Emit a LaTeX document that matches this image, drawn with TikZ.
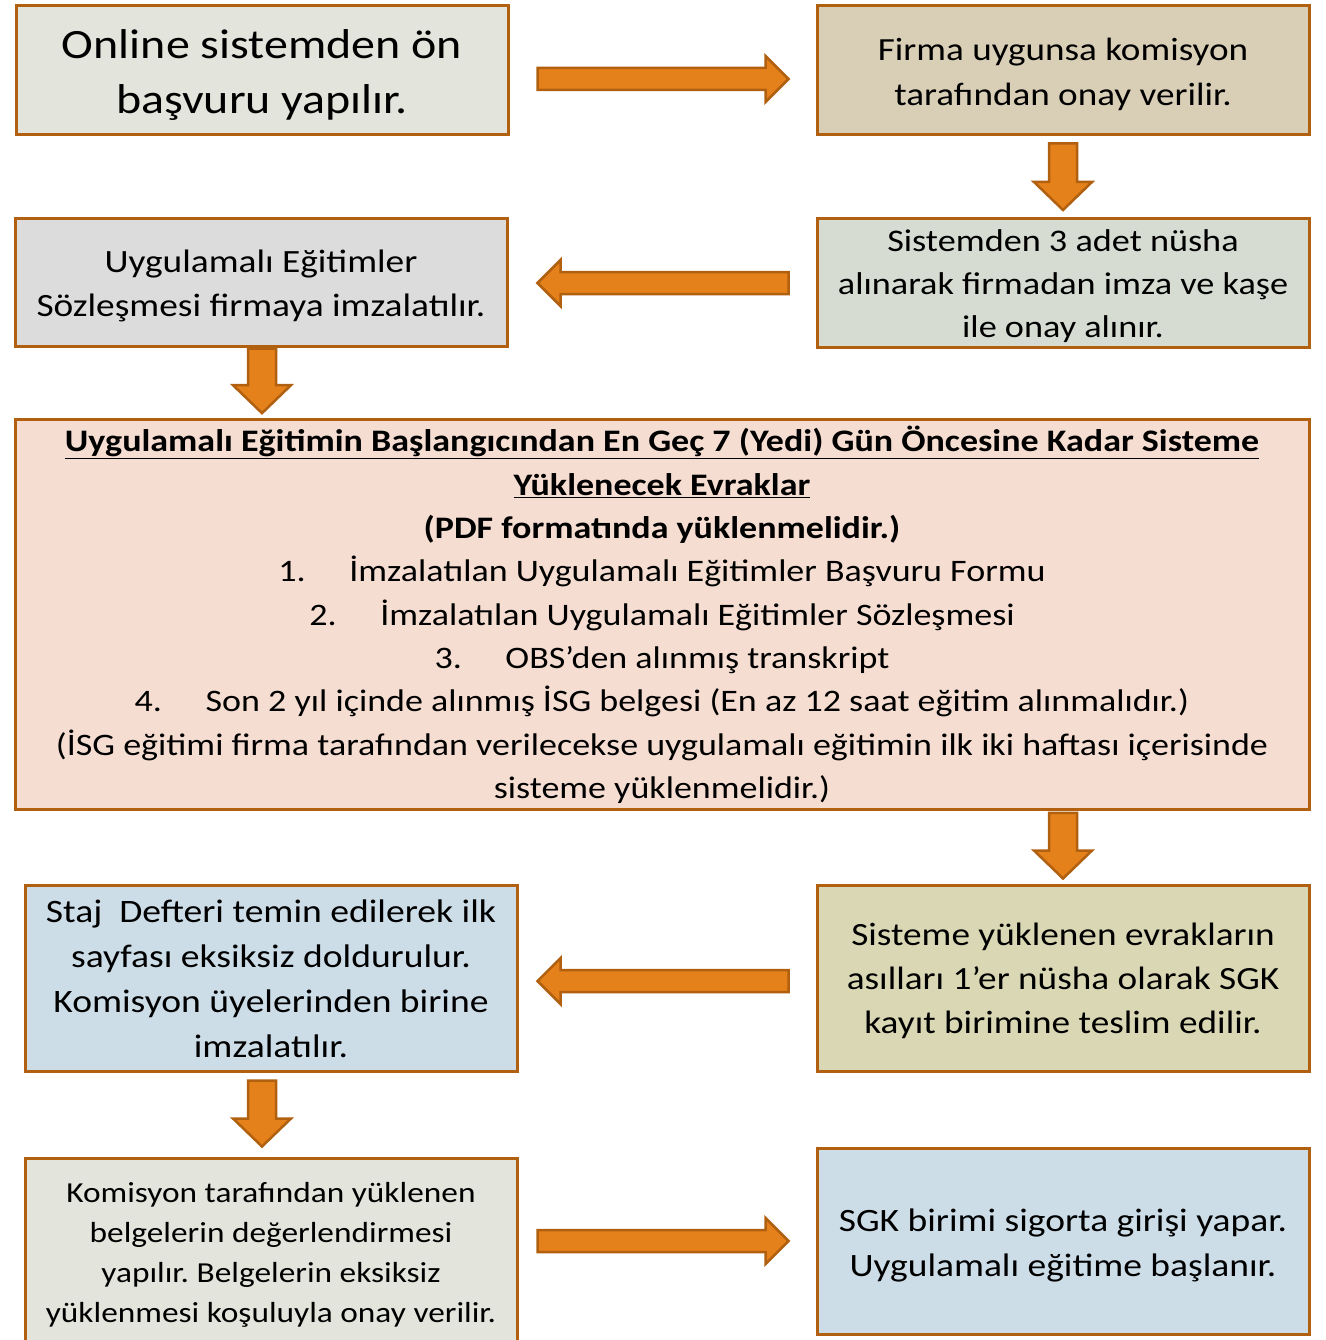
\documentclass[tikz,border=0pt]{standalone}
\usepackage{fontspec}
\setmainfont{Carlito}[FakeStretch=1.15]
\usetikzlibrary{calc}
\frenchspacing
\definecolor{bord}{HTML}{B0600F}
\definecolor{arrfill}{HTML}{E5811A}
\definecolor{cA}{HTML}{E3E5DC}
\definecolor{cB}{HTML}{D9CEB6}
\definecolor{cC}{HTML}{D6DCD2}
\definecolor{cD}{HTML}{DCDCDC}
\definecolor{cE}{HTML}{F5DDD1}
\definecolor{cF}{HTML}{DAD8B4}
\definecolor{cG}{HTML}{CCDDE8}
\tikzset{
  box/.style={draw=bord, line width=3pt, inner sep=0pt, text=black},
  blockarr/.style={draw=bord, fill=arrfill, line width=2.5pt, line join=miter},
}
% multi-line centred text, lowered by #1
\newcommand\ml[2][3pt]{\raisebox{-#1}[\height][\depth]{\begin{tabular}{@{}c@{}}#2\end{tabular}}}
\newcommand\blockarrow[5]{%
  \coordinate (bah) at ($(#2)!#5!(#1)$);
  \filldraw[blockarr] ($(#1)!#3!90:(#2)$) -- ($(bah)!#3!90:(#2)$) -- ($(bah)!#4!90:(#2)$) -- (#2)
    -- ($(bah)!#4!-90:(#2)$) -- ($(bah)!#3!-90:(#2)$) -- ($(#1)!#3!-90:(#2)$) -- cycle;}
\begin{document}
\begin{tikzpicture}[x=1pt,y=-1pt]
\clip (0,0) rectangle (1325,1340);
\fill[white] (0,0) rectangle (1325,1340);

\node[box, fill=cA, minimum width=492, minimum height=129, font=\fontsize{41.7}{55}\selectfont] (b1) at (262,70.5)
  {\ml[5pt]{Online sistemden ön\\başvuru yapılır.}};
\node[box, fill=cB, minimum width=492, minimum height=129, font=\fontsize{32.3}{45}\selectfont] (b2) at (1063,70.5)
  {\ml[4pt]{Firma uygunsa komisyon\\tarafından onay verilir.}};
\node[box, fill=cC, minimum width=492, minimum height=126, font=\fontsize{31.5}{43}\selectfont] (b3) at (1063,283)
  {\ml{Sistemden 3 adet nüsha\\alınarak firmadan imza ve kaşe\\ile onay alınır.}};
\node[box, fill=cD, minimum width=492, minimum height=127, font=\fontsize{32.5}{44}\selectfont] (b4) at (261,282.5)
  {\ml{Uygulamalı Eğitimler\\Sözleşmesi firmaya imzalatılır.}};
\node[box, fill=cE, minimum width=1294, minimum height=387, font=\fontsize{31.3}{43.3}\selectfont] (big) at (662,614.5)
  {\ml[2pt]{\textbf{\underline{Uygulamalı Eğitimin Başlangıcından En Geç 7 (Yedi) Gün Öncesine Kadar Sisteme}}\\
   \textbf{\underline{Yüklenecek Evraklar}}\\
   \textbf{(PDF formatında yüklenmelidir.)}\\
   \makebox[71pt][l]{1.}İmzalatılan Uygulamalı Eğitimler Başvuru Formu\\
   \makebox[71pt][l]{2.}İmzalatılan Uygulamalı Eğitimler Sözleşmesi\\
   \makebox[71pt][l]{3.}OBS’den alınmış transkript\\
   \makebox[71pt][l]{4.}Son 2 yıl içinde alınmış İSG belgesi (En az 12 saat eğitim alınmalıdır.)\\
   (İSG eğitimi firma tarafından verilecekse uygulamalı eğitimin ilk iki haftası içerisinde\\
   sisteme yüklenmelidir.)}};
\node[box, fill=cF, minimum width=492, minimum height=186, font=\fontsize{32.4}{44}\selectfont] (b6) at (1063,978)
  {\ml{Sisteme yüklenen evrakların\\asılları 1’er nüsha olarak SGK\\kayıt birimine teslim edilir.}};
\node[box, fill=cG, minimum width=492, minimum height=186, font=\fontsize{32.7}{44.7}\selectfont] (b7) at (271,978)
  {\ml{Staj~ Defteri temin edilerek ilk\\sayfası eksiksiz doldurulur.\\Komisyon üyelerinden birine\\imzalatılır.}};
\node[box, fill=cA, minimum width=492, minimum height=187, font=\fontsize{29}{39.7}\selectfont] (b8) at (271,1251.5)
  {\ml{Komisyon tarafından yüklenen\\belgelerin değerlendirmesi\\yapılır. Belgelerin eksiksiz\\yüklenmesi koşuluyla onay verilir.}};
\node[box, fill=cG, minimum width=492, minimum height=186, font=\fontsize{32.6}{45}\selectfont] (b9) at (1063,1241)
  {\ml[3.5pt]{SGK birimi sigorta girişi yapar.\\Uygulamalı eğitime başlanır.}};

% arrow end points
\coordinate (a1s) at ($(b1.east)+(28,8.5)$);
\coordinate (a1e) at ($(b2.west)+(-27,8.5)$);
\coordinate (a2s) at ($(b2.south)+(0,7)$);
\coordinate (a2e) at ($(b3.north)+(0,-7)$);
\coordinate (a3s) at ($(b3.west)+(-27,0)$);
\coordinate (a3e) at ($(b4.east)+(29,0.5)$);
\coordinate (a4s) at ($(b4.south)+(1,1)$);
\coordinate (a4e) at ($(b4.south|-big.north)+(1,-5)$);
\coordinate (a5s) at ($(b6.north|-big.south)+(0,2)$);
\coordinate (a5e) at ($(b6.north)+(0,-5)$);
\coordinate (a6s) at ($(b6.west)+(-27,3)$);
\coordinate (a6e) at ($(b7.east)+(19,3)$);
\coordinate (a7s) at ($(b4.south|-b7.south)+(1,8)$);
\coordinate (a7e) at ($(b4.south|-b8.north)+(1,-10)$);
\coordinate (a8s) at ($(b8.east)+(19,-10.5)$);
\coordinate (a8e) at ($(b9.west)+(-27,0)$);

\blockarrow{a1s}{a1e}{11pt}{23pt}{23pt}
\blockarrow{a2s}{a2e}{14pt}{29pt}{28pt}
\blockarrow{a3s}{a3e}{11pt}{23pt}{23pt}
\blockarrow{a4s}{a4e}{14pt}{29pt}{28pt}
\blockarrow{a5s}{a5e}{14pt}{29pt}{28pt}
\blockarrow{a6s}{a6e}{11pt}{23pt}{23pt}
\blockarrow{a7s}{a7e}{14pt}{29pt}{28pt}
\blockarrow{a8s}{a8e}{11pt}{23pt}{23pt}
\end{tikzpicture}
\end{document}
